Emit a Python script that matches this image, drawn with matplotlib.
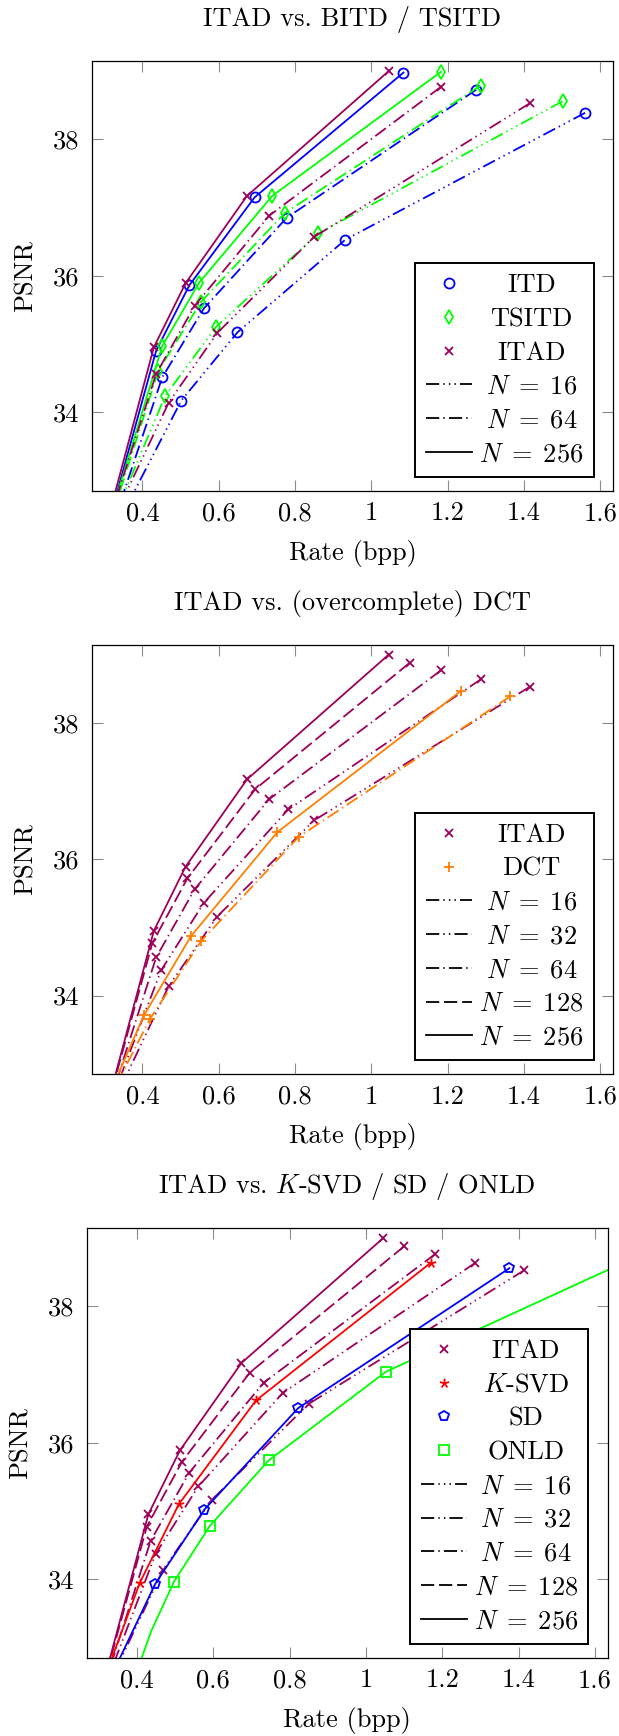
import numpy as np
import matplotlib
matplotlib.use('Agg')
import matplotlib.pyplot as plt
from matplotlib.lines import Line2D
from matplotlib.path import Path

plt.rcParams['font.family'] = 'cmr10'
plt.rcParams['mathtext.fontset'] = 'cm'
plt.rcParams['axes.unicode_minus'] = False
plt.rcParams['axes.formatter.use_mathtext'] = True
plt.rcParams['lines.scale_dashes'] = False

FS = 19

# ---- data (rate in bpp, PSNR in dB) ----
rate_ticks = [0.4, 0.6, 0.8, 1.0, 1.2, 1.4, 1.6]
rate_tick_labels = ['0.4', '0.6', '0.8', '1', '1.2', '1.4', '1.6']
psnr_ticks = [34, 36, 38]

itad_rate = {256: [1.045, 0.674, 0.513, 0.430, 0.299],
             128: [1.100, 0.696, 0.518, 0.426, 0.300],
             64:  [1.182, 0.732, 0.537, 0.436, 0.301],
             32:  [1.287, 0.782, 0.561, 0.449, 0.301],
             16:  [1.415, 0.850, 0.596, 0.469, 0.305]}
itad_psnr = {256: [39.00, 37.17, 35.89, 34.95, 32.2],
             128: [38.88, 37.03, 35.72, 34.77, 32.2],
             64:  [38.77, 36.88, 35.56, 34.56, 32.2],
             32:  [38.64, 36.73, 35.36, 34.37, 32.2],
             16:  [38.53, 36.57, 35.16, 34.14, 32.2]}

itd_rate = {256: [1.084, 0.694, 0.523, 0.436, 0.303],
            64:  [1.275, 0.778, 0.561, 0.452, 0.314],
            16:  [1.560, 0.932, 0.649, 0.502, 0.320]}
itd_psnr = {256: [38.98, 37.15, 35.86, 34.90, 32.2],
            64:  [38.73, 36.85, 35.52, 34.51, 32.2],
            16:  [38.39, 36.53, 35.17, 34.17, 32.2]}

tsitd_rate = {256: [1.182, 0.740, 0.549, 0.452, 0.302],
              64:  [1.286, 0.773, 0.554, 0.442, 0.305],
              16:  [1.501, 0.861, 0.593, 0.460, 0.306]}
tsitd_psnr = {256: [38.99, 37.17, 35.90, 34.97, 32.2],
              64:  [38.79, 36.92, 35.62, 34.61, 32.2],
              16:  [38.56, 36.62, 35.25, 34.24, 32.2]}

dct_rate = {256: [1.235, 0.754, 0.527, 0.404, 0.286],
            64:  [1.364, 0.810, 0.554, 0.419, 0.287]}
dct_psnr = {256: [38.47, 36.40, 34.87, 33.71, 32.2],
            64:  [38.39, 36.33, 34.80, 33.65, 32.2]}

ksvd_rate = [1.170, 0.712, 0.510, 0.408, 0.292]
ksvd_psnr = [38.64, 36.62, 35.10, 33.95, 32.2]

sd_rate = [1.376, 0.823, 0.577, 0.448, 0.301]
sd_psnr = [38.56, 36.51, 35.02, 33.93, 32.2]

onld_rate = [1.85, 1.052, 0.745, 0.591, 0.497, 0.437, 0.372]
onld_psnr = [39.09, 37.04, 35.74, 34.78, 33.96, 33.23, 32.2]

# ---- styles ----
PURPLE = '#9c0059'
ORANGE = '#ff8000'
GREEN = '#00ff00'
dash_for = {16: (0, (9.5, 3, 1, 3, 1, 3, 1, 3)),
            32: (0, (9.5, 3, 1, 3, 1, 3)),
            64: (0, (9.5, 3, 1, 3)),
            128: (0, (9.5, 3.5)),
            256: '-'}
LW = 1.3
MEW = 1.3

ang = np.pi / 2 + np.arange(5) * 2 * np.pi / 5
star_verts = []
star_codes = []
for a in ang:
    star_verts += [(0, 0), (np.cos(a), np.sin(a))]
    star_codes += [Path.MOVETO, Path.LINETO]
asterisk = Path(star_verts, star_codes)

fig = plt.figure(figsize=(6.19, 17.36), dpi=100)
W, H = 619, 1736


def make_axes(left_px, top_px):
    return fig.add_axes([left_px / W, (H - top_px - 429.5) / H, 521 / W, 429.5 / H])


def style_axes(ax, title):
    ax.set_xlim(0.268, 1.633)
    ax.set_ylim(32.85, 39.15)
    ax.set_xticks(rate_ticks)
    ax.set_xticklabels(rate_tick_labels)
    ax.set_yticks(psnr_ticks)
    ax.set_yticklabels([str(v) for v in psnr_ticks])
    ax.tick_params(direction='in', length=8, width=0.8, color='#8c8c8c',
                   top=True, right=True, labelsize=FS, labelcolor='k')
    ax.tick_params(axis='x', pad=8)
    ax.tick_params(axis='y', pad=9)
    for s in ax.spines.values():
        s.set_linewidth(0.9)
        s.set_color('k')
    ax.set_title(title, fontsize=FS, pad=25)
    ax.set_xlabel('Rate (bpp)', fontsize=FS, va='center')
    ax.xaxis.set_label_coords(0.5, -0.146)
    ax.set_ylabel('PSNR', fontsize=FS, va='center')
    ax.yaxis.set_label_coords(-0.127, 0.5)


def plot_set(ax, rate, psnr, color, marker, ms, ns):
    for n in ns:
        ax.plot(rate[n], psnr[n], color=color, ls=dash_for[n], lw=LW,
                marker=marker, ms=ms, mfc='none', mec=color, mew=MEW)


def add_legend(ax, entries, ns):
    handles = []
    labels = []
    for lab, color, marker, ms in entries:
        handles.append(Line2D([], [], ls='none', marker=marker, ms=ms,
                              mfc='none', mec=color, mew=MEW))
        labels.append(lab)
    for n in ns:
        handles.append(Line2D([], [], color='k', lw=LW, ls=dash_for[n]))
        labels.append(r'$N\;=\;%d$' % n)
    leg = ax.legend(handles, labels, loc='lower right', bbox_to_anchor=(0.9635, 0.032),
                    borderaxespad=0, fontsize=FS, handlelength=1.75, handletextpad=0.26,
                    borderpad=0.4, labelspacing=0.38, fancybox=False, framealpha=1,
                    edgecolor='k')
    leg.get_frame().set_linewidth(1.4)
    return leg


# panel 1
ax1 = make_axes(92, 61)
style_axes(ax1, 'ITAD vs. BITD / TSITD')
plot_set(ax1, itd_rate, itd_psnr, 'blue', 'o', 7.2, [16, 64, 256])
plot_set(ax1, tsitd_rate, tsitd_psnr, GREEN, 'd', 7, [16, 64, 256])
plot_set(ax1, itad_rate, itad_psnr, PURPLE, 'x', 5.5, [16, 64, 256])
leg1 = add_legend(ax1, [('ITD', 'blue', 'o', 7.2), ('TSITD', GREEN, 'd', 7),
                        ('ITAD', PURPLE, 'x', 5.5)], [16, 64, 256])

# panel 2
ax2 = make_axes(92, 644.5)
style_axes(ax2, 'ITAD vs. (overcomplete) DCT')
plot_set(ax2, itad_rate, itad_psnr, PURPLE, 'x', 5.5, [16, 32, 64, 128, 256])
plot_set(ax2, dct_rate, dct_psnr, ORANGE, '+', 6.5, [64, 256])
leg2 = add_legend(ax2, [('ITAD', PURPLE, 'x', 5.5), ('DCT', ORANGE, '+', 6.5)],
                  [16, 32, 64, 128, 256])

# panel 3
ax3 = make_axes(86.5, 1228)
style_axes(ax3, 'ITAD vs. $K$-SVD / SD / ONLD')
plot_set(ax3, itad_rate, itad_psnr, PURPLE, 'x', 5.5, [16, 32, 64, 128, 256])
ax3.plot(ksvd_rate, ksvd_psnr, color='red', lw=LW, marker=asterisk, ms=7,
         mfc='none', mec='red', mew=MEW)
ax3.plot(sd_rate, sd_psnr, color='blue', lw=LW, marker='p', ms=7.5,
         mfc='none', mec='blue', mew=MEW)
ax3.plot(onld_rate, onld_psnr, color=GREEN, lw=LW, marker='s', ms=7.5,
         mfc='none', mec=GREEN, mew=MEW, markevery=[0, 1, 2, 3, 4])
leg3 = add_legend(ax3, [('ITAD', PURPLE, 'x', 5.5), ('$K$-SVD', 'red', asterisk, 7),
                        ('SD', 'blue', 'p', 7.5), ('ONLD', GREEN, 's', 7.5)],
                  [16, 32, 64, 128, 256])

# centre legend texts in their column, like pgfplots does
fig.canvas.draw()
r = fig.canvas.get_renderer()
for leg in (leg1, leg2, leg3):
    texts = leg.get_texts()
    widths = [t.get_window_extent(r).width for t in texts]
    wmax = max(widths)
    for t, w in zip(texts, widths):
        t.set_x((wmax - w) / 2)

fig.savefig('out.png', dpi=100)
